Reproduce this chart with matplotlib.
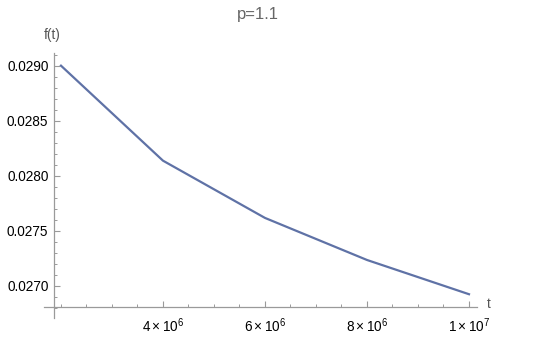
import matplotlib
matplotlib.use("Agg")
import matplotlib.pyplot as plt
from matplotlib.ticker import FixedLocator, MultipleLocator, FuncFormatter

# Data
t_values = [2e6, 4e6, 6e6, 8e6, 1e7]
f_values = [0.02900, 0.028137, 0.027617, 0.027235, 0.026924]

x_major_ticks = [4e6, 6e6, 8e6, 1e7]
x_tick_labels = [r"$4\times10^{6}$", r"$6\times10^{6}$", r"$8\times10^{6}$", r"$1\times10^{7}$"]
title_text = "p=1.1"
xlabel_text = "t"
ylabel_text = "f(t)"

plt.rcParams['font.family'] = ['Liberation Sans', 'DejaVu Sans']
plt.rcParams['mathtext.fontset'] = 'custom'
plt.rcParams['mathtext.rm'] = 'Liberation Sans'
plt.rcParams['mathtext.it'] = 'Liberation Sans'

W, H = 540, 352
fig = plt.figure(figsize=(W / 100, H / 100), dpi=100)
ax = fig.add_axes([44 / W, 1 - 318 / H, (477 - 44) / W, (318 - 53) / H])

line_color = '#5f72a6'
axis_color = '#9a9a9a'

ax.plot(t_values, f_values, color=line_color, lw=1.6, solid_joinstyle='round')

ax.set_xlim(1.667e6, 10.157e6)
ax.set_ylim(0.026708, 0.029115)

for s in ['top', 'right']:
    ax.spines[s].set_visible(False)
ax.spines['left'].set_position(('data', 1.863e6))
ax.spines['bottom'].set_position(('data', 0.026808))
for s in ['left', 'bottom']:
    ax.spines[s].set_color(axis_color)
    ax.spines[s].set_linewidth(0.9)

ax.set_xticks(x_major_ticks)
ax.set_xticklabels(x_tick_labels)
ax.xaxis.set_minor_locator(MultipleLocator(0.5e6))
ax.yaxis.set_major_locator(MultipleLocator(0.0005))
ax.yaxis.set_minor_locator(MultipleLocator(0.0001))
ax.yaxis.set_major_formatter(FuncFormatter(lambda v, p: f"{v:.4f}"))

ax.tick_params(axis='both', which='major', direction='in', length=4, width=0.8,
               color=axis_color, labelsize=9.8, labelcolor='#000000')
ax.tick_params(axis='both', which='minor', direction='in', length=2.2, width=0.7,
               color=axis_color)
ax.tick_params(axis='x', which='major', pad=7)
ax.tick_params(axis='y', which='major', pad=4)

fig.text(258 / W, 1 - 15 / H, title_text, ha='center', va='center', fontsize=12, color='#666666')
fig.text(52 / W, 1 - 35 / H, ylabel_text, ha='center', va='center', fontsize=9.8, color='#555555')
fig.text(489 / W, 1 - 304 / H, xlabel_text, ha='center', va='center', fontsize=9.8, color='#555555')

fig.savefig('out.png', dpi=100)
